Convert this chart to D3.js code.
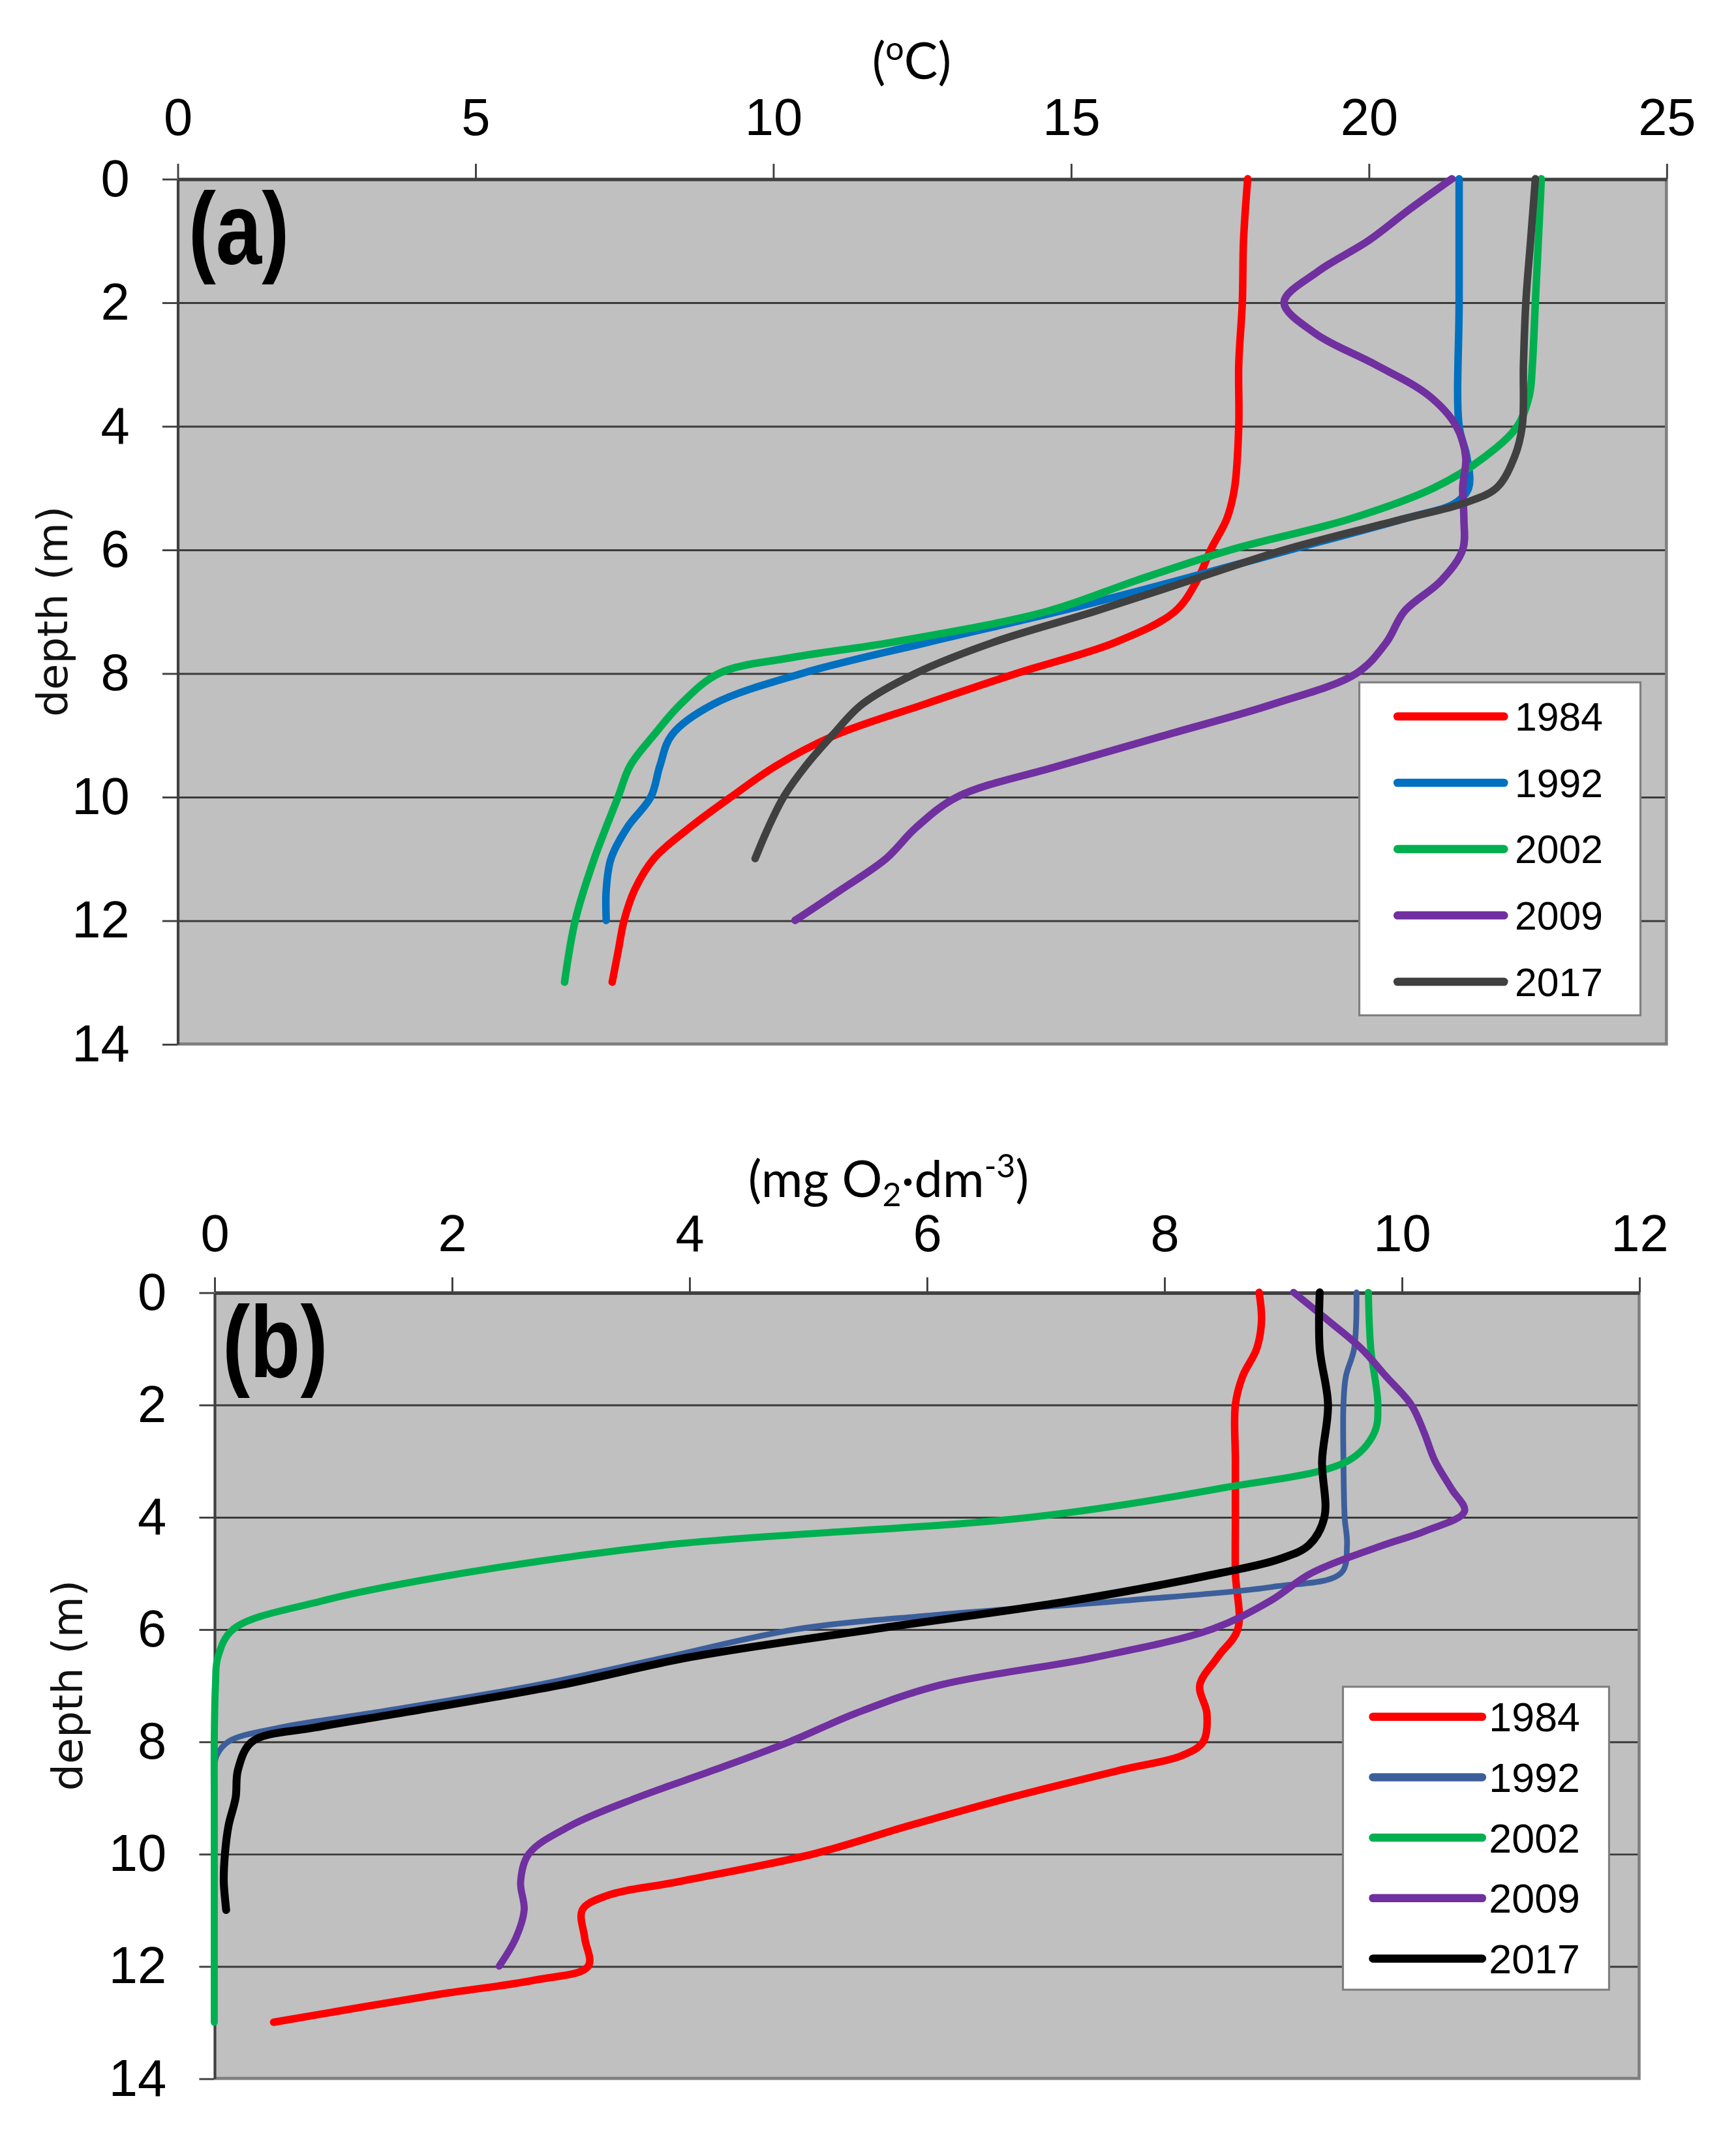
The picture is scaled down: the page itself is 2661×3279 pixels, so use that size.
<!DOCTYPE html>
<html>
<head>
<meta charset="utf-8">
<script src="https://cdn.jsdelivr.net/npm/d3@7"></script>
<style>
  body { margin: 0; background: #fff; }
</style>
</head>
<body>
<div id="chart"></div>
<script>
// ---- data ----
var years = ["1984", "1992", "2002", "2009", "2017"];
var tempTicks = [0, 5, 10, 15, 20, 25];
var oxyTicks = [0, 2, 4, 6, 8, 10, 12];
var depthTicks = [0, 2, 4, 6, 8, 10, 12, 14];

// (a) temperature, degC
var tDepth1984 = [0, 1, 2, 3, 4, 5, 5.5, 6, 6.5, 7, 7.5, 8, 8.5, 9, 9.5, 10, 10.5, 11, 11.5, 12, 12.5, 13];
var temp1984   = [17.97, 17.9, 17.88, 17.82, 17.82, 17.75, 17.62, 17.35, 17.12, 16.75, 15.75, 14.1, 12.55, 11.05, 10.05, 9.3, 8.6, 8.0, 7.68, 7.5, 7.4, 7.3];
var tDepth1992 = [0, 2, 4, 4.5, 5, 5.25, 5.5, 6, 6.5, 7, 7.5, 8, 8.5, 9, 9.5, 10, 10.5, 11, 11.5, 12];
var temp1992   = [21.52, 21.52, 21.52, 21.65, 21.68, 21.45, 20.6, 18.7, 16.8, 14.8, 12.6, 10.5, 9.0, 8.3, 8.1, 7.95, 7.55, 7.28, 7.2, 7.2];
var tDepth2002 = [0, 1, 2, 3, 3.5, 4, 4.5, 5, 5.5, 6, 6.5, 7, 7.5, 7.75, 8, 8.5, 9, 9.5, 10, 11, 12, 13];
var temp2002   = [22.9, 22.85, 22.8, 22.75, 22.7, 22.5, 21.95, 21.1, 19.7, 17.7, 16.1, 14.6, 12.0, 10.3, 9.1, 8.45, 8.0, 7.6, 7.4, 7.0, 6.68, 6.5];
var tDepth2009 = [0, 0.5, 1, 1.5, 2, 2.5, 3, 3.5, 4, 4.5, 5, 5.5, 6, 6.5, 7, 7.5, 8, 8.5, 9, 9.5, 10, 10.5, 11, 11.5, 12];
var temp2009   = [21.4, 20.68, 20.0, 19.15, 18.58, 19.1, 20.1, 21.0, 21.47, 21.63, 21.58, 21.6, 21.58, 21.22, 20.6, 20.3, 19.8, 18.4, 16.6, 14.8, 13.1, 12.4, 11.9, 11.15, 10.37];
var tDepth2017 = [0, 1, 2, 3, 4, 4.5, 5, 5.25, 5.5, 6, 6.5, 7, 7.5, 8, 8.5, 9, 9.5, 10, 10.5, 11];
var temp2017   = [22.8, 22.72, 22.64, 22.6, 22.58, 22.45, 22.15, 21.6, 20.6, 18.6, 17.0, 15.4, 13.7, 12.4, 11.5, 11.0, 10.55, 10.18, 9.92, 9.7];

// (b) dissolved oxygen, mg O2/dm3
var oDepth1984 = [0, 0.5, 1, 1.5, 2, 3, 4, 5, 6, 6.5, 7, 7.5, 8, 8.25, 8.5, 9, 9.5, 10, 10.5, 10.75, 11, 11.5, 12, 12.25, 12.5, 13];
var oxy1984    = [8.8, 8.82, 8.78, 8.66, 8.6, 8.6, 8.6, 8.6, 8.62, 8.45, 8.3, 8.36, 8.33, 8.15, 7.65, 6.7, 5.85, 5.05, 3.9, 3.3, 3.1, 3.12, 3.15, 2.7, 1.9, 0.5];
var oDepth1992 = [0, 1, 1.5, 2, 3, 4, 4.5, 5, 5.25, 5.5, 5.75, 6, 6.5, 7, 7.5, 7.75, 8, 8.25, 8.5];
var oxy1992    = [9.62, 9.6, 9.53, 9.51, 9.51, 9.52, 9.54, 9.49, 8.9, 7.6, 6.05, 4.9, 3.8, 2.7, 1.3, 0.56, 0.12, 0.02, 0];
var oDepth2002 = [0, 1, 2, 2.5, 3, 3.5, 4, 4.5, 5, 5.5, 6, 6.5, 7, 8, 9, 10, 11, 12, 13];
var oxy2002    = [9.72, 9.74, 9.8, 9.77, 9.55, 8.45, 6.9, 3.8, 2.1, 0.9, 0.16, 0.03, 0.01, 0, 0, 0, 0, 0, 0];
var oDepth2009 = [0, 0.5, 1, 1.5, 2, 2.5, 3, 3.5, 3.9, 4.25, 4.5, 5, 5.5, 6, 6.5, 7, 7.5, 8, 8.5, 9, 9.5, 10, 10.5, 11, 11.5, 12];
var oxy2009    = [9.09, 9.38, 9.66, 9.87, 10.08, 10.19, 10.28, 10.42, 10.53, 10.2, 9.85, 9.24, 8.89, 8.4, 7.42, 6.1, 5.4, 4.85, 4.22, 3.56, 3.0, 2.65, 2.58, 2.61, 2.54, 2.4];
var oDepth2017 = [0, 1, 2, 3, 4, 4.5, 4.75, 5, 5.5, 6, 6.5, 7, 7.5, 7.75, 8, 8.5, 9, 9.5, 10, 10.5, 11];
var oxy2017    = [9.31, 9.31, 9.38, 9.33, 9.35, 9.22, 8.97, 8.47, 7.2, 5.55, 4.0, 2.9, 1.55, 0.85, 0.32, 0.2, 0.18, 0.12, 0.09, 0.08, 0.1];

var tempColors = ["#ff0000", "#0070c0", "#00b050", "#7030a0", "#404040"];
var oxyColors  = ["#ff0000", "#3c5f9c", "#00b050", "#7030a0", "#000000"];

function pairs(depths, vals) {
    return depths.map(function(d, i) { return { d: d, v: vals[i] }; });
}

var tempSeries = [
    pairs(tDepth1984, temp1984), pairs(tDepth1992, temp1992), pairs(tDepth2002, temp2002),
    pairs(tDepth2009, temp2009), pairs(tDepth2017, temp2017)
];
var oxySeries = [
    pairs(oDepth1984, oxy1984), pairs(oDepth1992, oxy1992), pairs(oDepth2002, oxy2002),
    pairs(oDepth2009, oxy2009), pairs(oDepth2017, oxy2017)
];

// drawing works in a 1272-wide frame, scaled up to the page size
var W = 1272, H = 1567.4;
var svg = d3.select("#chart").append("svg")
    .attr("width", 2661)
    .attr("height", 3279)
    .attr("viewBox", "0 0 " + W + " " + H);

var tickFont = "'Liberation Sans', Arial, sans-serif";

function drawPanel(p) {
    var g = svg.append("g");
    var x = d3.scaleLinear().domain(p.xDomain).range([p.left, p.right]);
    var y = d3.scaleLinear().domain([0, 14]).range([p.top, p.bottom]);
    var w = p.right - p.left, h = p.bottom - p.top;

    g.append("rect")
        .attr("x", p.left).attr("y", p.top)
        .attr("width", w).attr("height", h)
        .attr("fill", "#c0c0c0");

    // horizontal gridlines
    var grid = g.append("g")
        .attr("transform", "translate(" + p.left + ",0)")
        .call(d3.axisLeft(y).tickValues(depthTicks.slice(1, -1)).tickSize(-w).tickFormat(""));
    grid.select(".domain").remove();
    grid.selectAll("line").attr("stroke", "#3a3a3a").attr("stroke-width", 1.4);

    // right and bottom plot border
    g.append("path")
        .attr("d", "M" + p.right + "," + p.top + "V" + p.bottom + "H" + p.left)
        .attr("fill", "none")
        .attr("stroke", "#7f7f7f")
        .attr("stroke-width", 2.2);

    // depth axis
    var ya = g.append("g")
        .attr("transform", "translate(" + p.left + ",0)")
        .call(d3.axisLeft(y).tickValues(depthTicks).tickSize(11).tickSizeOuter(0).tickPadding(24));
    ya.select(".domain").attr("stroke", "#404040").attr("stroke-width", 2);
    ya.selectAll(".tick line").attr("stroke", "#404040").attr("stroke-width", 1.4);
    ya.selectAll("text").attr("font-family", tickFont).attr("font-size", 38).attr("fill", "#000");

    // value axis on top
    var xa = g.append("g")
        .attr("transform", "translate(0," + p.top + ")")
        .call(d3.axisTop(x).tickValues(p.xTicks).tickSize(11).tickSizeOuter(0).tickPadding(p.xPad));
    xa.select(".domain").attr("stroke", "#404040").attr("stroke-width", 2.6);
    xa.selectAll(".tick line").attr("stroke", "#404040").attr("stroke-width", 1.4);
    xa.selectAll("text").attr("font-family", tickFont).attr("font-size", 38).attr("fill", "#000");

    // profiles
    var line = d3.line()
        .x(function(d) { return x(d.v); })
        .y(function(d) { return y(d.d); })
        .curve(d3.curveCatmullRom.alpha(0.5));

    g.selectAll(".profile")
        .data(p.series)
        .enter()
        .append("path")
        .attr("class", "profile")
        .attr("d", line)
        .attr("fill", "none")
        .attr("stroke", function(d, i) { return p.colors[i]; })
        .attr("stroke-width", function(d, i) { return p.widths[i]; })
        .attr("stroke-linecap", "round")
        .attr("stroke-linejoin", "round");

    // legend
    var lg = p.legend;
    g.append("rect")
        .attr("x", lg.x).attr("y", lg.y)
        .attr("width", lg.w).attr("height", lg.h)
        .attr("fill", "#fff")
        .attr("stroke", "#7f7f7f")
        .attr("stroke-width", 1.5);

    var rows = g.selectAll(".legrow")
        .data(years)
        .enter()
        .append("g")
        .attr("class", "legrow")
        .attr("transform", function(d, i) { return "translate(0," + (lg.row0 + i * lg.step) + ")"; });
    rows.append("line")
        .attr("x1", lg.lx1).attr("x2", lg.lx2)
        .attr("stroke", function(d, i) { return p.colors[i]; })
        .attr("stroke-width", 6)
        .attr("stroke-linecap", "round");
    rows.append("text")
        .attr("x", lg.tx)
        .attr("dy", "0.36em")
        .attr("font-family", tickFont)
        .attr("font-size", lg.font)
        .text(function(d) { return d; });

    // panel letter (condensed bold)
    g.append("text")
        .attr("transform", "translate(" + p.letter[0] + "," + p.letter[1] + ") scale(0.84,1.04)")
        .attr("font-family", "'Liberation Sans', Arial, sans-serif")
        .attr("font-weight", "bold")
        .attr("font-size", 72)
        .text(p.letterText);

    // depth label
    g.append("text")
        .attr("transform", "translate(" + p.depthX + "," + (p.top + p.bottom) / 2 + ") rotate(-90)")
        .attr("text-anchor", "middle")
        .attr("dy", "0.36em")
        .attr("font-family", "'DejaVu Sans', sans-serif")
        .attr("font-size", 31)
        .attr("fill", "#111")
        .text("depth (m)");

    // unit title
    var t = g.append("text")
        .attr("x", p.title[0]).attr("y", p.title[1])
        .attr("text-anchor", "middle")
        .attr("font-family", "Lato, 'Open Sans', sans-serif")
        .attr("font-size", 37)
        .attr("fill", "#000");
    p.titleParts(t);
}

drawPanel({
    left: 130, right: 1221, top: 131, bottom: 765,
    xDomain: [0, 25], xTicks: tempTicks, xPad: 21,
    series: tempSeries, colors: tempColors, widths: [5.5, 5.5, 5.5, 5.5, 5.5],
    legend: { x: 996, y: 500, w: 206, h: 244, lx1: 1024, lx2: 1102, tx: 1110, row0: 525, step: 48.6, font: 29 },
    letter: [138, 193], letterText: "(a)",
    depthX: 38,
    title: [668, 58],
    titleParts: function(t) {
        t.append("tspan").text("(");
        t.append("tspan").attr("font-size", 24).attr("dy", -14).text("o");
        t.append("tspan").attr("dy", 14).text("C)");
    }
});

drawPanel({
    left: 157, right: 1201, top: 947, bottom: 1523,
    xDomain: [0, 12], xTicks: oxyTicks, xPad: 19,
    series: oxySeries, colors: oxyColors, widths: [5.5, 4.2, 5.2, 5.2, 5.8],
    legend: { x: 984, y: 1236, w: 195, h: 222, lx1: 1006, lx2: 1086, tx: 1091, row0: 1258, step: 44.3, font: 30 },
    letter: [163, 1009], letterText: "(b)",
    depthX: 49,
    title: [651, 877],
    titleParts: function(t) {
        t.append("tspan").text("(mg O");
        t.append("tspan").attr("font-size", 24).attr("dy", 7).text("2");
        t.append("tspan").attr("dy", -7).text("\u00b7dm");
        t.append("tspan").attr("font-size", 24).attr("dy", -14).text("-3");
        t.append("tspan").attr("dy", 14).text(")");
    }
});
</script>
</body>
</html>
